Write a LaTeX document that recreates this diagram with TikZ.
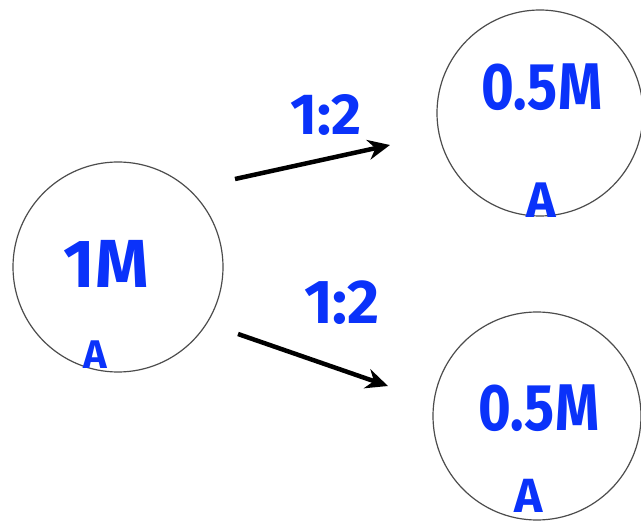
\documentclass[tikz,border=0pt]{standalone}
\usepackage{fontspec}
\setmainfont{Fira Sans}
\usetikzlibrary{arrows.meta,calc,positioning}
\definecolor{pen}{RGB}{10,50,250}
\tikzset{
  flask/.style={circle,draw=black!70,line width=1.2pt,minimum size=#1,inner sep=0pt},
  hand/.style={text=pen,inner sep=0pt,font=\fontsize{#1}{#1}\selectfont\bfseries},
  ratio/.style={line width=4.5pt,-{Stealth[length=22pt,width=20pt]}}
}
\begin{document}
\begin{tikzpicture}[x=1pt,y=-1pt]
\useasboundingbox (0,0) rectangle (641,524);
% the three solutions
\node[flask=210pt] (S) at (118,267) {};
\node[flask=206pt] (T) at (540,113) {};
\node[flask=208pt] (B) at (537,416) {};
\node[hand=68pt] (SM) at (106,264) {1M};
\node[hand=40pt] (SA) at (95,355) {A};
\node[hand=66pt,xscale=0.85] (TM) at (542,87) {0.5M};
\node[hand=50pt] (TA) at (541,200) {A};
\node[hand=66pt,xscale=0.85] (BM) at (539,408) {0.5M};
\node[hand=48pt] (BA) at (529,496) {A};
% dilution arrows
\coordinate (S1) at (235,179);
\coordinate (T1) at (390,145);
\coordinate (S2) at (238,334);
\coordinate (B1) at (388,386);
\draw[ratio] (S1) -- (T1);
\draw[ratio] (S2) -- (B1);
\node[hand=58pt] (R1) at (326,115) {1:2};
\node[hand=62pt] (R2) at (342,303) {1:2};
\end{tikzpicture}
\end{document}
